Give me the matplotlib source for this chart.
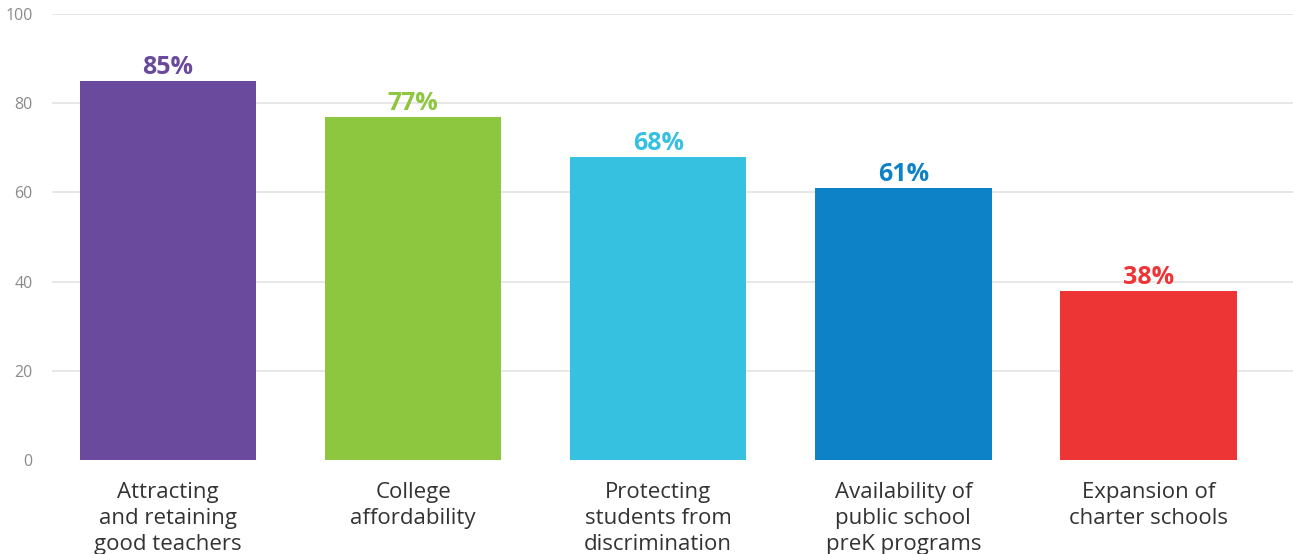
import matplotlib.pyplot as plt

categories = ["Attracting\nand retaining\ngood teachers", "College\naffordability",
              "Protecting\nstudents from\ndiscrimination", "Availability of\npublic school\npreK programs",
              "Expansion of\ncharter schools"]
values = [85, 77, 68, 61, 38]
colors = ["#6A4A9C", "#8DC63F", "#36C1E0", "#0E82C6", "#EE3536"]

plt.rcParams['font.family'] = ['Open Sans', 'DejaVu Sans']

fig = plt.figure(figsize=(12.93, 5.54), dpi=100)
ax = fig.add_axes([0.0402, 0.1697, 0.9598, 0.805])

x = range(len(values))
ax.bar(x, values, width=0.72, color=colors, zorder=2)
for i, v in enumerate(values):
    ax.text(i, v + 0.2, f"{v}%", ha='center', va='bottom', fontsize=18,
            fontweight='bold', color=colors[i])

ax.set_xlim(-0.473, 4.59)
ax.set_ylim(0, 100)
ax.set_yticks([0, 20, 40, 60, 80, 100])
ax.yaxis.grid(True, color='#e3e3e3', linewidth=1.2, zorder=0)
for s in ax.spines.values():
    s.set_visible(False)
ax.tick_params(axis='y', length=0, labelsize=11.5, labelcolor='#8a8a8a', pad=14)
ax.tick_params(axis='x', length=0, labelsize=16, labelcolor='#333333', pad=16)
ax.set_xticks(list(x))
ax.set_xticklabels(categories, linespacing=1.3, va='top')
ax.get_ygridlines()[0].set_visible(False)

fig.savefig('out.png', dpi=100)
